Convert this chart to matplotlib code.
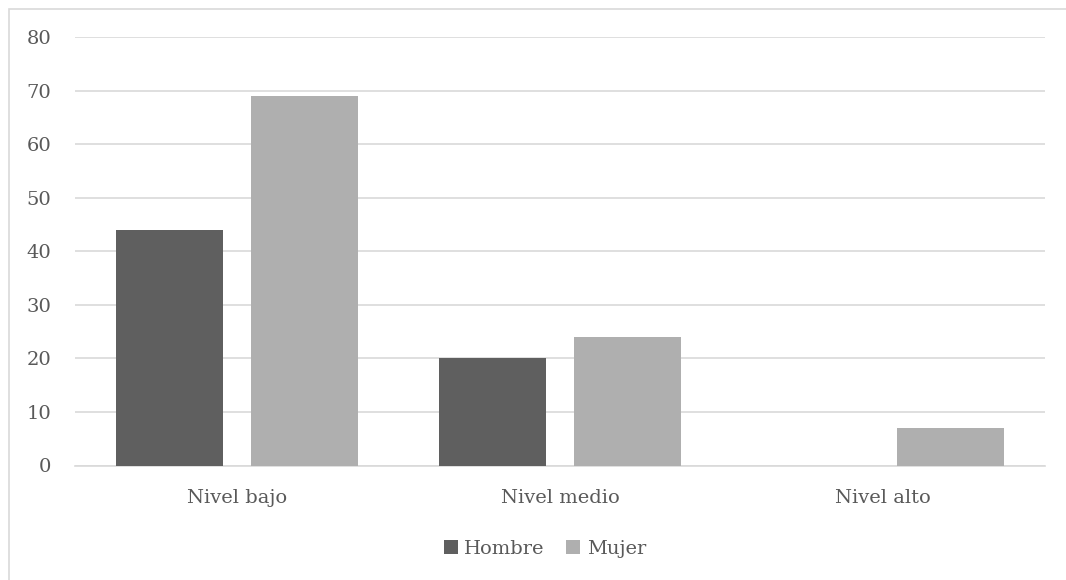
import numpy as np
import matplotlib
matplotlib.use("Agg")
import matplotlib.pyplot as plt
from matplotlib.patches import Rectangle

categories = ["Nivel bajo", "Nivel medio", "Nivel alto"]
series = ["Hombre", "Mujer"]
hombre = [44, 20, 0]
mujer = [69, 24, 7]
yticks = [0, 10, 20, 30, 40, 50, 60, 70, 80]

colors = ["#5f5f5f", "#afafaf"]
text_color = "#595959"
plt.rcParams['font.family'] = ['DejaVu Serif']

W, H = 1066, 580
fig = plt.figure(figsize=(W / 100, H / 100), dpi=100)

# outer chart border (top-left only visible, rest off canvas)
fig.patches.append(Rectangle((9 / W, -0.05), 1.1, (H - 9) / H + 0.05, transform=fig.transFigure,
                             fill=False, edgecolor="#d9d9d9", linewidth=1.2, zorder=0))

left, right = 75 / W, 1045 / W
bottom, top = 1 - 465.5 / H, 1 - 37 / H
ax = fig.add_axes([left, bottom, right - left, top - bottom])

x = np.arange(len(categories))
bw = 0.331
off = 0.209
ax.bar(x - off, hombre, bw, color=colors[0], label=series[0], zorder=3)
ax.bar(x + off, mujer, bw, color=colors[1], label=series[1], zorder=3)

ax.set_xlim(-0.5, len(categories) - 0.5)
ax.set_ylim(0, 80)
ax.set_yticks(yticks)
ax.set_xticks(x)
ax.set_xticklabels(categories)
ax.grid(axis="y", color="#d9d9d9", linewidth=1.2, zorder=0)
ax.tick_params(axis="both", length=0, labelsize=14, colors=text_color)
ax.tick_params(axis="y", pad=17)
ax.tick_params(axis="x", pad=17)
for s in ["top", "right", "left"]:
    ax.spines[s].set_visible(False)
ax.spines["bottom"].set_color("#d9d9d9")
ax.spines["bottom"].set_linewidth(1.2)

leg = fig.legend(loc="center", bbox_to_anchor=(545 / W, 1 - 549 / H), ncol=2, frameon=False,
                 fontsize=14, handlelength=0.7, handleheight=0.7, handletextpad=0.35,
                 columnspacing=1.1, labelcolor=text_color)

fig.savefig("out.png", dpi=100)
